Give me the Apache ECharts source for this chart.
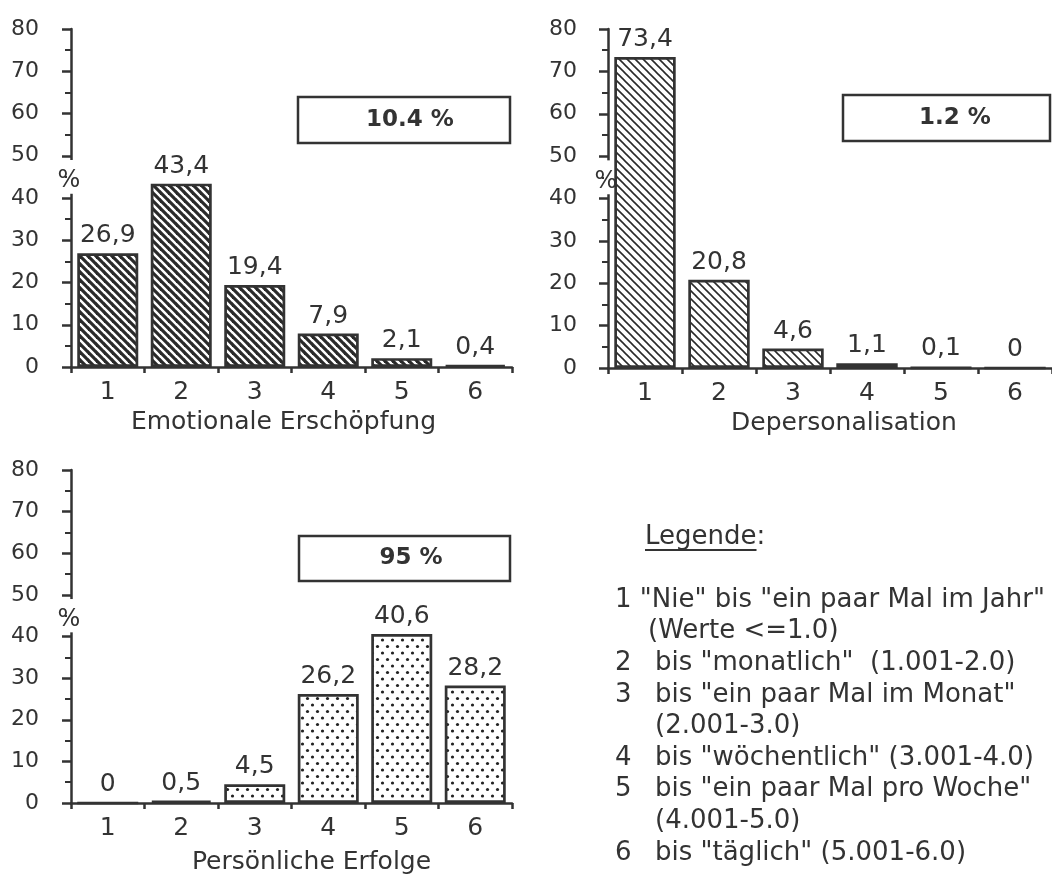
<!DOCTYPE html>
<html><head><meta charset="utf-8">
<script src="https://cdn.jsdelivr.net/npm/echarts@6/dist/echarts.min.js"></script>
<style>html,body{margin:0;padding:0;background:#fff}#c{width:1052px;height:880px}</style>
</head><body><div id="c"></div>
<script>
// ---------- data ----------
const categories = ['1', '2', '3', '4', '5', '6'];
const emotionaleErschoepfung = [26.9, 43.4, 19.4, 7.9, 2.1, 0.4];
const depersonalisation = [73.4, 20.8, 4.6, 1.1, 0.1, 0];
const persoenlicheErfolge = [0, 0.5, 4.5, 26.2, 40.6, 28.2];
const panelTitles = ['Emotionale Erschöpfung', 'Depersonalisation', 'Persönliche Erfolge'];
const boxTexts = ['10.4 %', '1.2 %', '95 %'];
const yMin = 0, yMax = 80, yInterval = 10;
const yUnit = '%';
const legendTitle = 'Legende';
const legendLines = [
  ['', '1 "Nie" bis "ein paar Mal im Jahr"'],
  ['', '(Werte <=1.0)'],
  ['2', 'bis "monatlich"  (1.001-2.0)'],
  ['3', 'bis "ein paar Mal im Monat"'],
  ['', '(2.001-3.0)'],
  ['4', 'bis "wöchentlich" (3.001-4.0)'],
  ['5', 'bis "ein paar Mal pro Woche"'],
  ['', '(4.001-5.0)'],
  ['6', 'bis "täglich" (5.001-6.0)']
];

// ---------- styling / layout ----------
const FONT = '"DejaVu Sans", Verdana, sans-serif';
const INK = '#333';
const grids = [
  { left: 71, right: 540, top: 29, bottom: 513 },
  { left: 608, right: -10, top: 29, bottom: 512 },
  { left: 71, right: 540, top: 470, bottom: 77 }
];
const titlePad = [[0, 16, 0, 0], [0, 0, 0, 28], [0, 0, 0, 40]];
const titleGap = [43, 43, 47];
const boxes = [
  { x: 298, y: 97, w: 212, h: 46, tx: 410, ty: 120 },
  { x: 843, y: 95, w: 207, h: 46, tx: 955, ty: 118 },
  { x: 299, y: 536, w: 211, h: 45, tx: 411, ty: 558 }
];

function hatch(size, lw) {
  const c = document.createElement('canvas');
  c.width = c.height = size;
  const g = c.getContext('2d');
  g.fillStyle = '#fff'; g.fillRect(0, 0, size, size);
  g.strokeStyle = '#2a2a2a'; g.lineWidth = lw;
  for (let k = -1; k <= 1; k++) {
    g.beginPath(); g.moveTo(-1, k * size - 1); g.lineTo(size + 1, size + k * size + 1); g.stroke();
  }
  return c;
}
function dots() {
  const w = 10, h = 13;
  const c = document.createElement('canvas');
  c.width = w; c.height = h;
  const g = c.getContext('2d');
  g.fillStyle = '#fff'; g.fillRect(0, 0, w, h);
  g.fillStyle = '#222';
  [[2.5, 3], [7.5, 9.5]].forEach(p => { g.beginPath(); g.arc(p[0], p[1], 1.6, 0, Math.PI * 2); g.fill(); });
  return c;
}
const patterns = [hatch(8, 3.2), hatch(8, 1.6), dots()];
const seriesData = [emotionaleErschoepfung, depersonalisation, persoenlicheErfolge];

const fmt = v => String(v).replace('.', ',');

const option = {
  animation: false,
  backgroundColor: '#fff',
  textStyle: { fontFamily: FONT, color: INK },
  grid: grids,
  xAxis: grids.map((g, i) => ({
    type: 'category', gridIndex: i, data: categories,
    name: panelTitles[i], nameLocation: 'middle', nameGap: titleGap[i],
    nameTextStyle: { fontFamily: FONT, fontSize: 25, color: INK, padding: titlePad[i] },
    axisLine: { lineStyle: { color: INK, width: 2.5 } },
    axisTick: { show: true, length: 6, lineStyle: { color: INK, width: 2.5 } },
    axisLabel: { fontFamily: FONT, fontSize: 25, color: INK, margin: 13 },
    splitLine: { show: false }
  })),
  yAxis: grids.map((g, i) => ({
    type: 'value', gridIndex: i, min: yMin, max: yMax, interval: yInterval,
    axisLine: { show: true, lineStyle: { color: INK, width: 2.5 } },
    axisTick: { show: true, length: 9, lineStyle: { color: INK, width: 2.5 } },
    minorTick: { show: true, splitNumber: 2, length: 6, lineStyle: { color: INK, width: 2 } },
    axisLabel: { fontFamily: FONT, fontSize: 22, color: INK, margin: i === 1 ? 31 : 32 },
    splitLine: { show: false }
  })),
  series: seriesData.map((d, i) => ({
    type: 'bar', xAxisIndex: i, yAxisIndex: i, data: d,
    barCategoryGap: '17%',
    itemStyle: { color: { image: patterns[i], repeat: 'repeat' }, borderColor: INK, borderWidth: 2.7 },
    label: { show: true, position: 'top', distance: 5, fontFamily: FONT, fontSize: 25, color: INK, formatter: p => fmt(p.value) },
    emphasis: { disabled: true }
  }))
};

const chart = echarts.init(document.getElementById('c'), null, { renderer: 'canvas' });
chart.setOption(option);

// ---------- annotations ----------
const gfx = [];
boxes.forEach((b, i) => {
  gfx.push({ type: 'rect', z: 100, shape: { x: b.x, y: b.y, width: b.w, height: b.h },
    style: { fill: '#fff', stroke: INK, lineWidth: 2.5 } });
  gfx.push({ type: 'text', z: 101, x: b.tx, y: b.ty,
    style: { text: boxTexts[i], font: 'bold 23px ' + FONT, fill: INK, align: 'center', verticalAlign: 'middle', textAlign: 'center', textVerticalAlign: 'middle' } });
});
grids.forEach((g, i) => {
  const yTop = chart.convertToPixel({ yAxisIndex: i }, 49);
  const yBot = chart.convertToPixel({ yAxisIndex: i }, 41);
  const yMid = chart.convertToPixel({ yAxisIndex: i }, 44);
  gfx.push({ type: 'rect', z: 100, shape: { x: g.left - 4, y: yTop, width: 8, height: yBot - yTop }, style: { fill: '#fff' } });
  gfx.push({ type: 'text', z: 101, x: g.left - 2, y: yMid,
    style: { text: yUnit, font: '24px ' + FONT, fill: INK, align: 'center', verticalAlign: 'middle', textAlign: 'center', textVerticalAlign: 'middle' } });
});
// legend block
const mctx = document.createElement('canvas').getContext('2d');
mctx.font = '26px ' + FONT;
const lgX = 645, lgY = 537;
gfx.push({ type: 'text', z: 101, x: lgX, y: lgY,
  style: { text: legendTitle + ':', font: '26px ' + FONT, fill: INK, align: 'left', verticalAlign: 'middle', textAlign: 'left', textVerticalAlign: 'middle' } });
gfx.push({ type: 'line', z: 101, shape: { x1: lgX, y1: lgY + 13, x2: lgX + mctx.measureText(legendTitle).width, y2: lgY + 13 },
  style: { stroke: INK, lineWidth: 2 } });
legendLines.forEach((ln, k) => {
  const y = 600 + k * 31.6;
  let tx;
  if (ln[0]) {
    gfx.push({ type: 'text', z: 101, x: 615, y,
      style: { text: ln[0], font: '26px ' + FONT, fill: INK, align: 'left', verticalAlign: 'middle', textAlign: 'left', textVerticalAlign: 'middle' } });
    tx = 655;
  } else {
    tx = k === 0 ? 615 : (k === 1 ? 648 : 655);
  }
  gfx.push({ type: 'text', z: 101, x: tx, y,
    style: { text: ln[1], font: '26px ' + FONT, fill: INK, align: 'left', verticalAlign: 'middle', textAlign: 'left', textVerticalAlign: 'middle' } });
});
chart.setOption({ graphic: { elements: gfx } });
</script>
</body></html>
